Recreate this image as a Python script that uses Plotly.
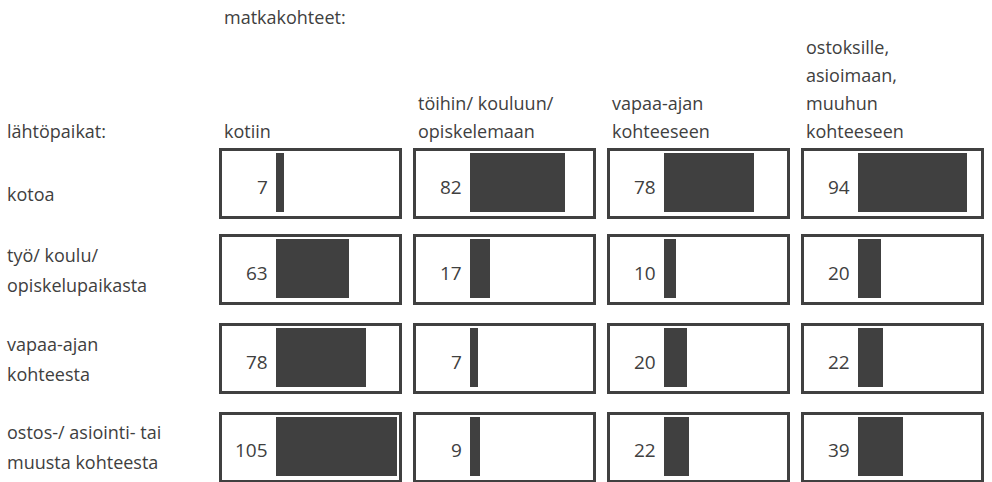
import plotly.graph_objects as go

# Trip origins (rows) and destinations (columns)
origins = ["kotoa", "työ/ koulu/|opiskelupaikasta", "vapaa-ajan|kohteesta",
           "ostos-/ asiointi- tai|muusta kohteesta"]
destinations = ["kotiin", "töihin/ kouluun/|opiskelemaan", "vapaa-ajan|kohteeseen",
                "ostoksille,|asioimaan,|muuhun|kohteeseen"]
origin_title = "lähtöpaikat:"
destination_title = "matkakohteet:"

# Trip counts per origin, one value per destination
from_home = [7, 82, 78, 94]
from_work_school = [63, 17, 10, 20]
from_leisure = [78, 7, 20, 22]
from_shopping = [105, 9, 22, 39]
values = [from_home, from_work_school, from_leisure, from_shopping]

W, H = 992, 482
INK = "#404040"
FONT = "Open Sans"
FS = 18
NUM_FS = 19

# panel geometry (inner plot area, pixels)
col_left = [222 + 194 * c for c in range(4)]
col_w = 177
row_top = [151.3, 237.3, 326.3, 414.7]
row_h = 65
px_per_unit = 1.157
bar_offset = 54  # pixels from the panel's left edge to the bar's base

fig = go.Figure()
annotations = []

for r in range(4):
    for c in range(4):
        k = r * 4 + c + 1
        xa = "x" if k == 1 else f"x{k}"
        ya = "y" if k == 1 else f"y{k}"
        v = values[r][c]
        fig.add_trace(go.Bar(
            x=[v], y=[0], orientation="h", width=0.9,
            marker=dict(color=INK, line=dict(width=0)),
            xaxis=xa, yaxis=ya, showlegend=False, hoverinfo="x",
        ))
        x0 = col_left[c] / W
        x1 = (col_left[c] + col_w) / W
        y1 = 1 - row_top[r] / H
        y0 = 1 - (row_top[r] + row_h) / H
        ax_style = dict(showgrid=False, zeroline=False, showticklabels=False,
                        ticks="", showline=True, mirror=True, linecolor=INK,
                        linewidth=3, fixedrange=True)
        fig.layout[("xaxis" if k == 1 else f"xaxis{k}")] = dict(
            domain=[x0, x1], anchor=ya,
            range=[-bar_offset / px_per_unit, (col_w - bar_offset) / px_per_unit],
            **ax_style)
        fig.layout[("yaxis" if k == 1 else f"yaxis{k}")] = dict(
            domain=[y0, y1], anchor=xa, range=[-0.511, 0.48], **ax_style)
        annotations.append(dict(
            x=0, y=0, xref=xa, yref=ya, text=str(v), showarrow=False,
            xanchor="right", yanchor="middle", xshift=-6, yshift=-4,
            font=dict(family=FONT, size=NUM_FS, color=INK)))

def text(x, y, s):
    # annotations carry a few pixels of padding; pull them back to the anchor
    annotations.append(dict(
        x=(x - 3) / W, y=1 - y / H, xref="paper", yref="paper", text=s,
        showarrow=False, xanchor="left", yanchor="middle",
        font=dict(family=FONT, size=FS, color=INK)))

# titles
text(225, 17, destination_title)
text(8, 131, origin_title)

# destination headers, bottom-aligned above each column
for c, label in enumerate(destinations):
    lines = label.split("|")
    for i, line in enumerate(lines):
        text(225 + 194 * c, 131 - 28 * (len(lines) - 1 - i), line)

# origin labels, centred on each row
for r, label in enumerate(origins):
    lines = label.split("|")
    centre = row_top[r] + row_h / 2
    if len(lines) == 1:
        text(8, centre + 10, lines[0])
    else:
        for i, line in enumerate(lines):
            text(8, centre - 15 + 30 * i, line)

fig.update_layout(
    width=W, height=H, margin=dict(l=0, r=0, t=0, b=0),
    paper_bgcolor="white", plot_bgcolor="white",
    annotations=annotations, bargap=0, showlegend=False,
)

fig.write_html("out.html")
